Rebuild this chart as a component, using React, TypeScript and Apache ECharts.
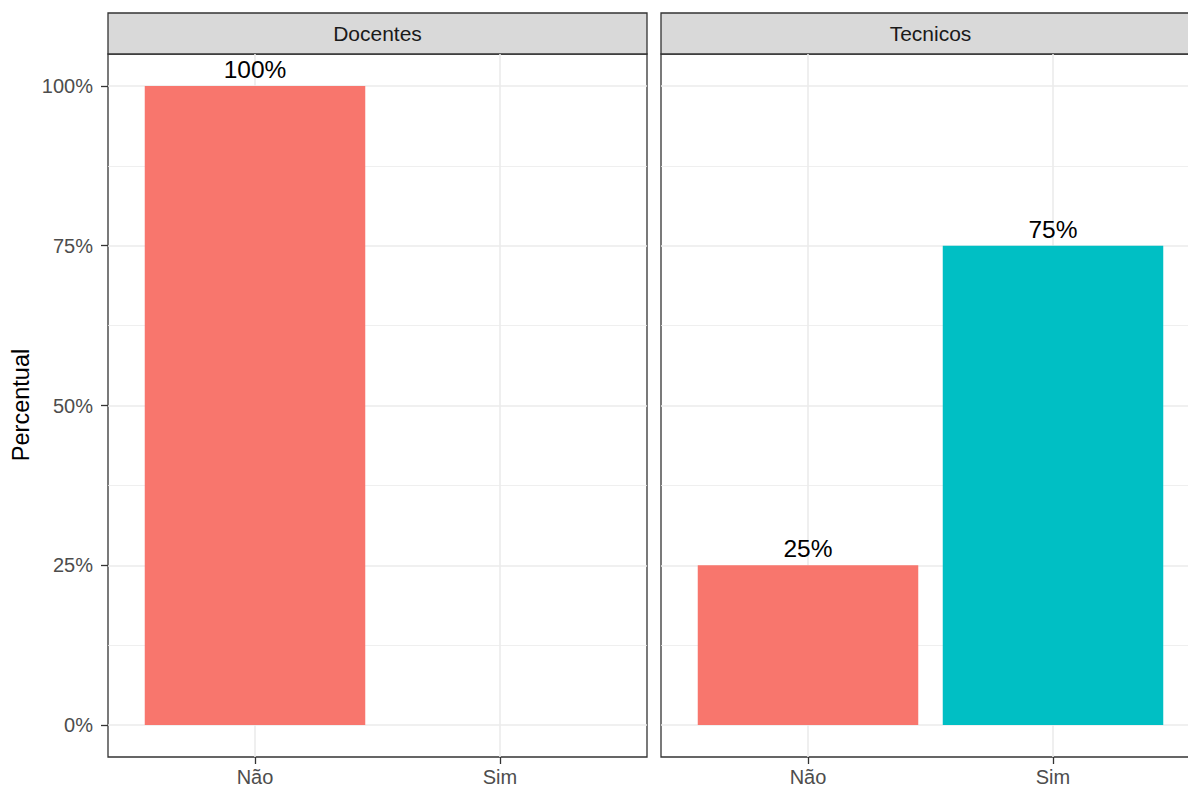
import React, { useEffect, useRef } from "react";
import * as echarts from "echarts";

const categories = ["Não", "Sim"];
const panels = ["Docentes", "Tecnicos"];
const docentesValues: (number | null)[] = [100, null];
const tecnicosValues: (number | null)[] = [25, 75];
const colors = ["#F8766D", "#00BFC4"];
const yTicks = [0, 25, 50, 75, 100];
const yMinor = [12.5, 37.5, 62.5, 87.5];
const xPositions = [1, 2];

const FONT = "Liberation Sans, Arial, sans-serif";

export default function App() {
  const ref = useRef<HTMLDivElement>(null);
  useEffect(() => {
    if (!ref.current) return;
    document.body.style.overflow = "hidden";
    const chart = echarts.init(ref.current, null, { renderer: "svg" });
    const gridW = 539;
    const barW = (0.9 / 2.2) * gridW;
    const grids = [
      { left: 108, top: 54, width: gridW, height: 703 },
      { left: 661, top: 54, width: gridW, height: 703 },
    ];
    const values = [docentesValues, tecnicosValues];

    const xAxes = grids.map((_, i) => ({
      type: "value",
      gridIndex: i,
      min: 0.4,
      max: 2.6,
      position: "bottom",
      axisLine: { show: false, onZero: false },
      axisTick: {
        show: true,
        customValues: xPositions,
        length: 7,
        lineStyle: { color: "#333333", width: 1.3 },
      },
      axisLabel: {
        customValues: xPositions,
        formatter: (v: number) => categories[Math.round(v) - 1] ?? "",
        color: "#4d4d4d",
        fontSize: 20,
        fontFamily: FONT,
        margin: 10,
      },
      splitLine: { show: true, lineStyle: { color: "#ebebeb", width: 1.6 } },
    }));

    const yAxes = grids.map((_, i) => ({
      type: "value",
      gridIndex: i,
      min: -5,
      max: 105,
      axisLine: { show: false, onZero: false },
      axisTick: {
        show: i === 0,
        customValues: yTicks,
        length: 7,
        lineStyle: { color: "#333333", width: 1.3 },
      },
      axisLabel: {
        show: i === 0,
        customValues: yTicks,
        formatter: (v: number) => `${v}%`,
        color: "#4d4d4d",
        fontSize: 20,
        fontFamily: FONT,
        margin: 15,
      },
      splitLine: { show: true, lineStyle: { color: "#ebebeb", width: 1.6 } },
    }));

    const series = grids.map((_, i) => ({
      type: "bar",
      xAxisIndex: i,
      yAxisIndex: i,
      barWidth: barW,
      z: 2,
      data: xPositions.map((x, j) => ({
        value: [x, values[i][j]],
        itemStyle: { color: colors[j] },
      })),
      label: {
        show: true,
        position: "top",
        distance: 4,
        formatter: (p: any) => (p.value[1] == null ? "" : `${p.value[1]}%`),
        color: "#000000",
        fontSize: 24.5,
        fontFamily: FONT,
      },
      markLine: {
        silent: true,
        z: 1,
        symbol: ["none", "none"],
        label: { show: false },
        lineStyle: { color: "#ebebeb", width: 0.8, type: "solid" },
        data: yMinor.map((v) => ({ yAxis: v })),
      },
    }));

    const graphics: any[] = [];
    grids.forEach((g, i) => {
      graphics.push({
        type: "rect",
        shape: { x: g.left, y: 13, width: g.width, height: 41 },
        style: { fill: "#d9d9d9", stroke: "#333333", lineWidth: 1.3 },
      });
      graphics.push({
        type: "text",
        x: g.left + g.width / 2,
        y: 33.5,
        style: {
          text: panels[i],
          fill: "#1a1a1a",
          font: `21px ${FONT}`,
          textAlign: "center",
          textVerticalAlign: "middle",
        },
      });
    });
    graphics.push({
      type: "text",
      x: 21,
      y: 405,
      rotation: Math.PI / 2,
      style: {
        text: "Percentual",
        fill: "#000000",
        font: `23.5px ${FONT}`,
        textAlign: "center",
        textVerticalAlign: "middle",
      },
    });

    chart.setOption({
      animation: false,
      backgroundColor: "#ffffff",
      grid: grids.map((g) => ({
        ...g,
        show: true,
        borderColor: "#333333",
        borderWidth: 1.3,
        backgroundColor: "#ffffff",
      })),
      xAxis: xAxes,
      yAxis: yAxes,
      series,
      graphic: graphics,
    });
    return () => chart.dispose();
  }, []);
  return (
    <div
      ref={ref}
      style={{ position: "fixed", left: 0, top: 0, width: 1212, height: 788 }}
    />
  );
}
